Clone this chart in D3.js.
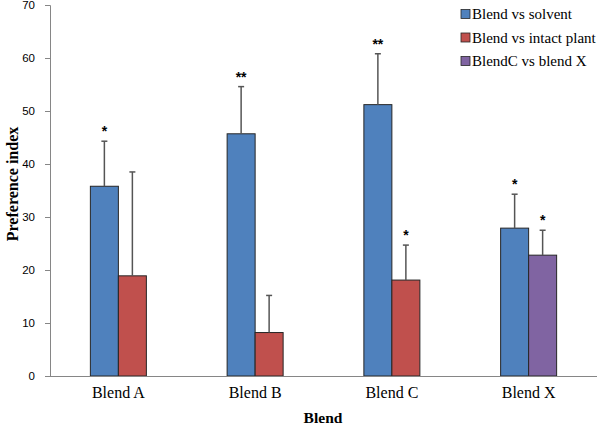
<!DOCTYPE html>
<html><head><meta charset="utf-8">
<script src="https://cdn.jsdelivr.net/npm/d3@7"></script>
<style>body{margin:0;background:#fff}svg{display:block}</style>
</head><body>
<svg id="c" width="600" height="428"></svg>
<script>
const categories = ["Blend A", "Blend B", "Blend C", "Blend X"];
const seriesNames = ["Blend vs solvent", "Blend vs intact plant", "BlendC vs blend X"];
const seriesColors = ["#4F81BD", "#C0504D", "#8064A2"];
// first bar in each group: Blend vs solvent
const solventValues = [35.8, 45.7, 51.2, 27.9];
const solventErrors = [8.5, 8.9, 9.6, 6.4];
const solventStars = ["*", "**", "**", "*"];
// second bar: Blend vs intact plant (A,B,C) / BlendC vs blend X (X)
const secondSeries = [1, 1, 1, 2];
const secondValues = [18.9, 8.2, 18.1, 22.8];
const secondErrors = [19.6, 7.0, 6.6, 4.7];
const secondStars = ["", "", "*", "*"];
const yTicks = [0, 10, 20, 30, 40, 50, 60, 70];

(function () {
const svg = d3.select("#c");
const mLeft = 50, mRight = 597, mTop = 5, mBottom = 376;
const serif = "Liberation Serif, Times New Roman, serif";
const y = d3.scaleLinear().domain([0, 70]).range([mBottom, mTop]);
const x0 = d3.scaleBand().domain(categories).range([mLeft, mRight]).padding(0);
const groupW = 56;
const x1 = d3.scaleBand().domain([0, 1]).range([0, groupW]).padding(0);

const bars = [];
categories.forEach((c, i) => {
  bars.push({cat: c, slot: 0, s: 0, v: solventValues[i], e: solventErrors[i], star: solventStars[i]});
  bars.push({cat: c, slot: 1, s: secondSeries[i], v: secondValues[i], e: secondErrors[i], star: secondStars[i]});
});
const bx = d => x0(d.cat) + (x0.bandwidth() - groupW) / 2 + x1(d.slot);

// y axis
const yAxis = svg.append("g").attr("transform", `translate(${mLeft},0)`)
  .call(d3.axisLeft(y).tickValues(yTicks).tickSize(5).tickPadding(10).tickFormat(d3.format("d")));
yAxis.selectAll("path,line").attr("stroke", "#868686");
yAxis.selectAll("text").attr("font-family", "Liberation Sans, Arial, sans-serif").attr("font-size", 11.5).attr("fill", "#000");

const g = svg.append("g");
g.selectAll("rect").data(bars).join("rect")
  .attr("x", bx).attr("width", x1.bandwidth())
  .attr("y", d => y(d.v)).attr("height", d => y(0) - y(d.v))
  .attr("fill", d => seriesColors[d.s]).attr("stroke", "#262626").attr("stroke-width", 1);

// error bars
const eb = g.selectAll("g.eb").data(bars).join("g").attr("class", "eb");
eb.append("line").attr("x1", d => bx(d) + x1.bandwidth() / 2).attr("x2", d => bx(d) + x1.bandwidth() / 2)
  .attr("y1", d => y(d.v)).attr("y2", d => y(d.v + d.e)).attr("stroke", "#555").attr("stroke-width", 1.5);
eb.append("line").attr("x1", d => bx(d) + x1.bandwidth() / 2 - 3).attr("x2", d => bx(d) + x1.bandwidth() / 2 + 3)
  .attr("y1", d => y(d.v + d.e)).attr("y2", d => y(d.v + d.e)).attr("stroke", "#555").attr("stroke-width", 1.5);
eb.append("text").attr("x", d => bx(d) + x1.bandwidth() / 2).attr("y", d => y(d.v + d.e) - 5)
  .attr("text-anchor", "middle").attr("font-family", "Liberation Sans, Arial, sans-serif")
  .attr("font-weight", "bold").attr("font-size", 14).text(d => d.star);

// x axis
const xAxis = svg.append("g").attr("transform", `translate(0,${mBottom})`)
  .call(d3.axisBottom(x0).tickSize(0).tickPadding(11));
xAxis.select("path").attr("stroke", "#868686").attr("d", `M${mLeft},0.5H${mRight}`);
xAxis.selectAll("text").attr("font-family", serif).attr("font-size", 16).attr("fill", "#000");

// axis titles
svg.append("text").attr("x", 323).attr("y", 423).attr("text-anchor", "middle")
  .attr("font-family", serif).attr("font-weight", "bold").attr("font-size", 15.5).text("Blend");
svg.append("text").attr("transform", "translate(18,184) rotate(-90)").attr("text-anchor", "middle")
  .attr("font-family", serif).attr("font-weight", "bold").attr("font-size", 16).text("Preference index");

// legend
const leg = svg.append("g").selectAll("g").data(seriesNames).join("g")
  .attr("transform", (d, i) => `translate(461,${14 + i * 23.5})`);
leg.append("rect").attr("x", 0).attr("y", -4.5).attr("width", 9).attr("height", 9)
  .attr("fill", (d, i) => seriesColors[i]).attr("stroke", "#262626").attr("stroke-width", 0.8);
leg.append("text").attr("x", 11).attr("y", 5).attr("font-family", serif)
  .attr("font-size", 15).attr("fill", "#000").text(d => d);
})();
</script>
</body></html>
